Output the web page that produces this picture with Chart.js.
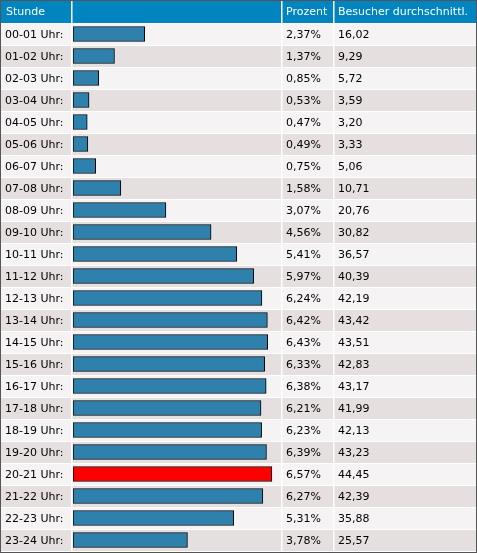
<!DOCTYPE html>
<html>
<head>
<meta charset="utf-8">
<script src="https://cdn.jsdelivr.net/npm/chart.js@4.4.1/dist/chart.umd.min.js"></script>
<style>
  html, body { margin: 0; padding: 0; background: #fff; }
  #wrap { position: relative; width: 477px; height: 553px; }
</style>
</head>
<body>
<div id="wrap"><canvas id="c" width="477" height="553"></canvas></div>
<script>
const hours = ["00-01 Uhr:", "01-02 Uhr:", "02-03 Uhr:", "03-04 Uhr:", "04-05 Uhr:", "05-06 Uhr:",
  "06-07 Uhr:", "07-08 Uhr:", "08-09 Uhr:", "09-10 Uhr:", "10-11 Uhr:", "11-12 Uhr:",
  "12-13 Uhr:", "13-14 Uhr:", "14-15 Uhr:", "15-16 Uhr:", "16-17 Uhr:", "17-18 Uhr:",
  "18-19 Uhr:", "19-20 Uhr:", "20-21 Uhr:", "21-22 Uhr:", "22-23 Uhr:", "23-24 Uhr:"];
const percent = [2.37, 1.37, 0.85, 0.53, 0.47, 0.49, 0.75, 1.58, 3.07, 4.56, 5.41, 5.97,
  6.24, 6.42, 6.43, 6.33, 6.38, 6.21, 6.23, 6.39, 6.57, 6.27, 5.31, 3.78];
const visitors = [16.02, 9.29, 5.72, 3.59, 3.20, 3.33, 5.06, 10.71, 20.76, 30.82, 36.57, 40.39,
  42.19, 43.42, 43.51, 42.83, 43.17, 41.99, 42.13, 43.23, 44.45, 42.39, 35.88, 25.57];
const headers = ["Stunde", "Prozent", "Besucher durchschnittl."];

const maxIdx = percent.indexOf(Math.max(...percent));
const de = v => v.toFixed(2).replace(".", ",");

const W = 477, H = 553, HEAD = 23;
const colX = [0, 72, 282, 334];

const tablePlugin = {
  id: "table",
  beforeDatasetsDraw(chart) {
    const ctx = chart.ctx;
    const yScale = chart.scales.y;
    const rowH = (chart.chartArea.bottom - chart.chartArea.top) / hours.length;
    ctx.save();
    // header
    ctx.fillStyle = "#0085c0";
    ctx.fillRect(0, 0, W, HEAD);
    // rows
    hours.forEach((h, i) => {
      const top = yScale.getPixelForValue(i) - rowH / 2;
      ctx.fillStyle = i % 2 ? "#e6dfdf" : "#f5f3f3";
      ctx.fillRect(0, top, W, rowH);
      ctx.fillStyle = "#ffffff";
      ctx.fillRect(0, top, W, 1);
    });
    // column separators
    ctx.fillStyle = "#ffffff";
    colX.slice(1).forEach(x => ctx.fillRect(x - 1, 0, 1.5, H));
    ctx.restore();
  },
  afterDatasetsDraw(chart) {
    const ctx = chart.ctx;
    const yScale = chart.scales.y;
    ctx.save();
    ctx.font = "11px 'DejaVu Sans', Verdana, sans-serif";
    ctx.textBaseline = "middle";
    ctx.fillStyle = "#ffffff";
    ctx.fillText(headers[0], 6, 12);
    ctx.fillText(headers[1], 286, 12);
    ctx.fillText(headers[2], 338, 12);
    ctx.fillStyle = "#000000";
    hours.forEach((h, i) => {
      const y = yScale.getPixelForValue(i) + 1;
      ctx.fillText(h, 5, y);
      ctx.fillText(de(percent[i]) + "%", 286, y);
      ctx.fillText(de(visitors[i]), 338, y);
    });
    // outer border
    ctx.strokeStyle = "#555555";
    ctx.lineWidth = 1;
    ctx.strokeRect(0.5, 0.5, W - 1, H - 1);
    ctx.restore();
  }
};

new Chart(document.getElementById("c"), {
  type: "bar",
  data: {
    labels: hours,
    datasets: [{
      data: percent,
      backgroundColor: percent.map((v, i) => i === maxIdx ? "#ff0000" : "#2e80ad"),
      borderColor: "#000000",
      borderWidth: 1,
      borderSkipped: false,
      barThickness: 15
    }]
  },
  options: {
    indexAxis: "y",
    responsive: false,
    animation: false,
    layout: { padding: { left: 73, right: 196, top: HEAD, bottom: 2 } },
    scales: {
      x: { display: false, min: 0, max: 6.87 },
      y: { display: false }
    },
    plugins: { legend: { display: false }, tooltip: { enabled: false } }
  },
  plugins: [tablePlugin]
});
</script>
</body>
</html>
